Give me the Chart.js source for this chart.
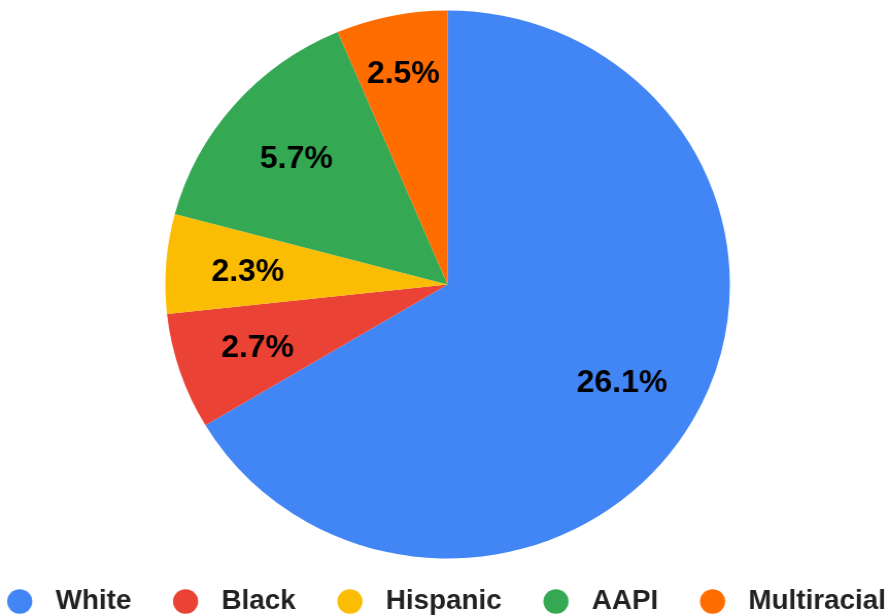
<!DOCTYPE html>
<html>
<head>
<meta charset="utf-8">
<title>Share by group</title>
<script src="https://cdn.jsdelivr.net/npm/chart.js@4.4.1/dist/chart.umd.min.js"></script>
<style>
  html, body { margin: 0; padding: 0; background: #fff; overflow: hidden; }
  /* the chart is drawn slightly narrow and widened to the full page width */
  #wrap { width: 864px; height: 615px; transform: scaleX(1.0301); transform-origin: 0 0; }
</style>
</head>
<body>
<div id="wrap"><canvas id="pieChart"></canvas></div>
<script>
// Data
const groups = ['White', 'Black', 'Hispanic', 'AAPI', 'Multiracial'];
const shares = [26.1, 2.7, 2.3, 5.7, 2.5];
const sliceColors = ['#4285F4', '#EA4335', '#FBBC04', '#34A853', '#FF6D01'];

const FONT = '"Liberation Sans", Arial, Helvetica, sans-serif';

// smallest distance from the text box corners to the two straight edges of a slice
function clearance(cx, cy, hw, hh, a0, a1) {
    const ux = Math.cos(a0), uy = Math.sin(a0);
    const vx = Math.cos(a1), vy = Math.sin(a1);
    let m = Infinity;
    [[cx - hw, cy - hh], [cx + hw, cy - hh], [cx - hw, cy + hh], [cx + hw, cy + hh]].forEach(([px, py]) => {
        m = Math.min(m, ux * py - uy * px, vy * px - vx * py);
    });
    return m;
}

// Percentage text inside each slice; narrow slices push the text outward until it fits
const sliceLabels = {
    id: 'sliceLabels',
    afterDatasetsDraw(chart) {
        const ctx = chart.ctx;
        const meta = chart.getDatasetMeta(0);
        const size = 31;
        ctx.save();
        ctx.font = 'bold ' + size + 'px ' + FONT;
        ctx.fillStyle = '#000';
        ctx.textAlign = 'center';
        ctx.textBaseline = 'alphabetic';
        meta.data.forEach((arc, i) => {
            const p = arc.getProps(['x', 'y', 'startAngle', 'endAngle', 'outerRadius'], true);
            const text = shares[i].toFixed(1) + '%';
            const hw = ctx.measureText(text).width / 2;
            const hh = 11;
            const mid = (p.startAngle + p.endAngle) / 2;
            let r = p.outerRadius * 0.71;
            if (p.endAngle - p.startAngle < Math.PI) {
                while (r < p.outerRadius * 0.9 &&
                       clearance(r * Math.cos(mid), r * Math.sin(mid), hw, hh, p.startAngle, p.endAngle) < 6) {
                    r += 1;
                }
            }
            const tx = p.x + r * Math.cos(mid);
            const ty = p.y + r * Math.sin(mid);
            ctx.fillText(text, tx, ty + size * 0.358);
        });
        ctx.restore();
    }
};

// Single row legend under the pie with round markers
const legendRow = {
    id: 'legendRow',
    afterDraw(chart) {
        const ctx = chart.ctx;
        const area = chart.chartArea;
        const dot = 12.2, toText = 47, gap = 40.5;
        ctx.save();
        ctx.font = 'bold 27px ' + FONT;
        ctx.textAlign = 'left';
        ctx.textBaseline = 'alphabetic';
        const widths = groups.map(g => ctx.measureText(g).width);
        const total = widths.reduce((s, w) => s + toText + w, 0) + gap * (groups.length - 1);
        let x = (area.left + area.right) / 2 - total / 2 - 1;
        const cy = chart.height - 13.5;
        groups.forEach((g, i) => {
            ctx.fillStyle = sliceColors[i];
            ctx.beginPath();
            ctx.arc(x + dot, cy, dot, 0, Math.PI * 2);
            ctx.fill();
            ctx.fillStyle = '#222';
            ctx.fillText(g, x + toText, chart.height - 6);
            x += toText + widths[i] + gap;
        });
        ctx.restore();
    }
};

const ctx = document.getElementById('pieChart').getContext('2d');
new Chart(ctx, {
    type: 'pie',
    data: {
        labels: groups,
        datasets: [{
            data: shares,
            backgroundColor: sliceColors,
            borderWidth: 0
        }]
    },
    options: {
        responsive: true,
        maintainAspectRatio: false,
        animation: false,
        layout: {
            padding: { top: 10.5, bottom: 56.5, left: 5, right: 0 }
        },
        plugins: {
            legend: { display: false },
            tooltip: { enabled: false }
        }
    },
    plugins: [sliceLabels, legendRow]
});
</script>
</body>
</html>
